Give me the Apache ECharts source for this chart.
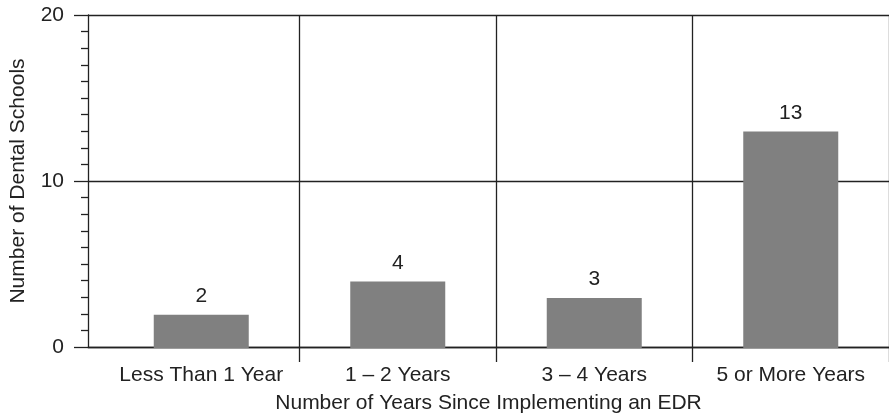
<!DOCTYPE html>
<html>
<head>
<meta charset="utf-8">
<script src="https://cdn.jsdelivr.net/npm/echarts@6/dist/echarts.min.js"></script>
<style>
  html, body { margin: 0; padding: 0; background: #fff; }
  #chart { width: 889px; height: 419px; }
</style>
</head>
<body>
<div id="chart"></div>
<script>
const categories = ['Less Than 1 Year', '1 – 2 Years', '3 – 4 Years', '5 or More Years']
const schools = [2, 4, 3, 13]
const yTicks = [0, 10, 20]

const ink = '#222'
const font = 'Liberation Sans, Arial, Helvetica, sans-serif'
const fs = 21
const skipFirst = (i) => i !== 0

const chart = echarts.init(document.getElementById('chart'))
chart.setOption({
  animation: false,
  textStyle: { fontFamily: font, color: ink },
  grid: [
    { left: 86, right: 0, top: 15, bottom: 71 },
    { left: 103, right: -1, top: 15, bottom: 71 }
  ],
  xAxis: [
    {
      gridIndex: 0,
      type: 'value',
      min: 0,
      max: 1,
      name: 'Number of Years Since Implementing an EDR',
      nameLocation: 'middle',
      nameGap: 46,
      nameTextStyle: { fontSize: fs, color: ink, fontFamily: font },
      axisLine: { show: true, lineStyle: { color: ink, width: 1.3 } },
      axisTick: { show: false },
      axisLabel: { show: false },
      splitLine: { show: false }
    },
    {
      gridIndex: 1,
      type: 'category',
      data: categories,
      axisLine: { show: false },
      axisTick: { show: true, length: 14, interval: skipFirst, lineStyle: { color: ink, width: 1.3 } },
      axisLabel: { margin: 17, fontSize: fs, color: ink, fontFamily: font, interval: 0 },
      splitLine: { show: true, interval: skipFirst, lineStyle: { color: ink, width: 1.3 } }
    }
  ],
  yAxis: [
    {
      gridIndex: 0,
      type: 'value',
      min: yTicks[0],
      max: yTicks[yTicks.length - 1],
      interval: yTicks[1] - yTicks[0],
      name: 'Number of Dental Schools',
      nameLocation: 'middle',
      nameGap: 59,
      nameTextStyle: { fontSize: fs, color: ink, fontFamily: font },
      axisLine: { show: true, lineStyle: { color: ink, width: 1.3 } },
      axisTick: { show: true, length: 14, lineStyle: { color: ink, width: 1.3 } },
      minorTick: { show: true, splitNumber: 10, length: 7, lineStyle: { color: ink, width: 1.3 } },
      axisLabel: { margin: 24, fontSize: fs, color: ink, fontFamily: font },
      splitLine: { show: true, lineStyle: { color: ink, width: 1.3 } }
    },
    {
      gridIndex: 1,
      type: 'value',
      min: 0,
      max: 20,
      show: false
    }
  ],
  series: [
    {
      type: 'bar',
      xAxisIndex: 1,
      yAxisIndex: 1,
      data: schools,
      barWidth: 95,
      itemStyle: { color: '#808080' },
      label: {
        show: true,
        position: 'top',
        distance: 8,
        fontSize: fs,
        color: ink,
        fontFamily: font
      }
    }
  ]
})
</script>
</body>
</html>
